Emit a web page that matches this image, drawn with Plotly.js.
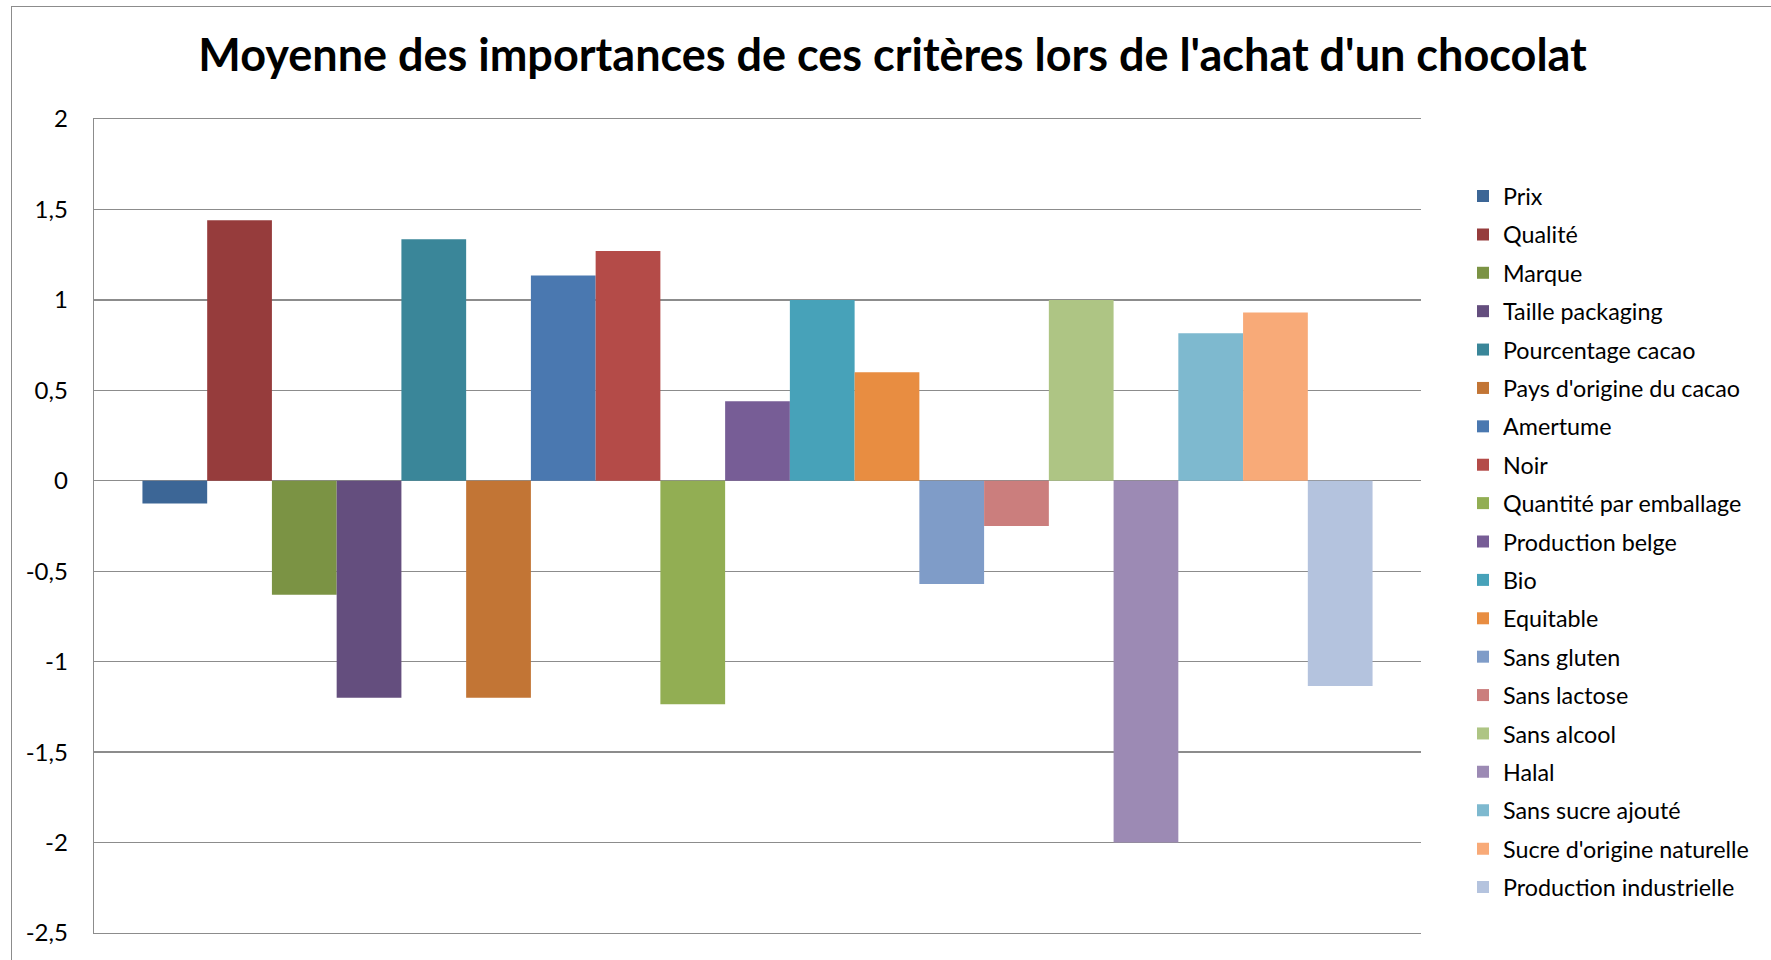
<!DOCTYPE html>
<html>
<head>
<meta charset="utf-8">
<script src="https://cdn.plot.ly/plotly-3.0.1.min.js"></script>
<style>
html,body{margin:0;padding:0;background:#fff;overflow:hidden;}
#frame{position:absolute;left:11px;top:6px;width:1800px;height:1000px;border:1px solid #8c8c8c;box-sizing:border-box;}
#chart{position:absolute;left:0;top:0;width:1771px;height:960px;}
</style>
</head>
<body>
<div id="frame"></div>
<div id="chart"></div>
<script>
const seriesNames = ["Prix","Qualité","Marque","Taille packaging","Pourcentage cacao","Pays d'origine du cacao","Amertume","Noir","Quantité par emballage","Production belge","Bio","Equitable","Sans gluten","Sans lactose","Sans alcool","Halal","Sans sucre ajouté","Sucre d'origine naturelle","Production industrielle"];
const seriesValues = [-0.125,1.44,-0.63,-1.2,1.335,-1.2,1.135,1.27,-1.235,0.44,1.0,0.6,-0.57,-0.25,1.0,-2.0,0.815,0.93,-1.135];
const seriesColors = ["#3c6696","#963c3c","#7b9344","#644e7e","#3a8699","#c27535","#4a78b0","#b44b48","#92ae53","#775d96","#47a2b9","#e88d41","#7f9cc8","#cb7e7d","#aec584","#9c8ab4","#7eb9cf","#f8aa78","#b4c3de"];
const category = [""];
const yTicks = [-2.5,-2,-1.5,-1,-0.5,0,0.5,1,1.5,2];

const traces = seriesNames.map((n,i)=>({
  type:'bar', name:n, x:category, y:[seriesValues[i]],
  marker:{color:seriesColors[i], line:{width:0}},
  legendgroup:'g'+i, hoverinfo:'name+y'
}));

const layout = {
  width:1771, height:960,
  paper_bgcolor:'rgba(0,0,0,0)', plot_bgcolor:'rgba(0,0,0,0)',
  separators:', ',
  font:{family:'Lato, "Open Sans", sans-serif', color:'#000'},
  margin:{l:94, r:350, t:119, b:27, pad:0},
  title:{text:"<b>Moyenne des importances de ces critères lors de l'achat d'un chocolat</b>",
         font:{family:'Lato, sans-serif', size:45, color:'#000', weight:'bold'},
         x:0.504, xanchor:'center', y:0.942, yanchor:'middle'},
  barmode:'group', bargap:0.073, bargroupgap:0,
  xaxis:{showticklabels:false, ticks:'', showgrid:false, zeroline:false,
         showline:true, mirror:true, linecolor:'#8c8c8c', linewidth:1.3, fixedrange:true},
  yaxis:{range:[-2.5,2], tickvals:yTicks, ticktext:yTicks.map(v=>String(v).replace('.',',')),
         showgrid:true, gridcolor:'#8c8c8c', gridwidth:1.3,
         zeroline:true, zerolinecolor:'#8c8c8c', zerolinewidth:1.3,
         showline:true, linecolor:'#8c8c8c', linewidth:1.3, ticks:'',
         ticklabelstandoff:20, tickfont:{size:24, color:'#000'}, fixedrange:true},
  showlegend:true,
  legend:{x:(1463-94)/1327, xanchor:'left', y:0.932, yanchor:'top',
          font:{size:23.3, color:'#000'}, traceorder:'grouped', tracegroupgap:5.1,
          borderwidth:0, bgcolor:'rgba(0,0,0,0)', itemclick:false, itemdoubleclick:false}
};

Plotly.newPlot('chart', traces, layout, {displayModeBar:false, staticPlot:true});
</script>
</body>
</html>
